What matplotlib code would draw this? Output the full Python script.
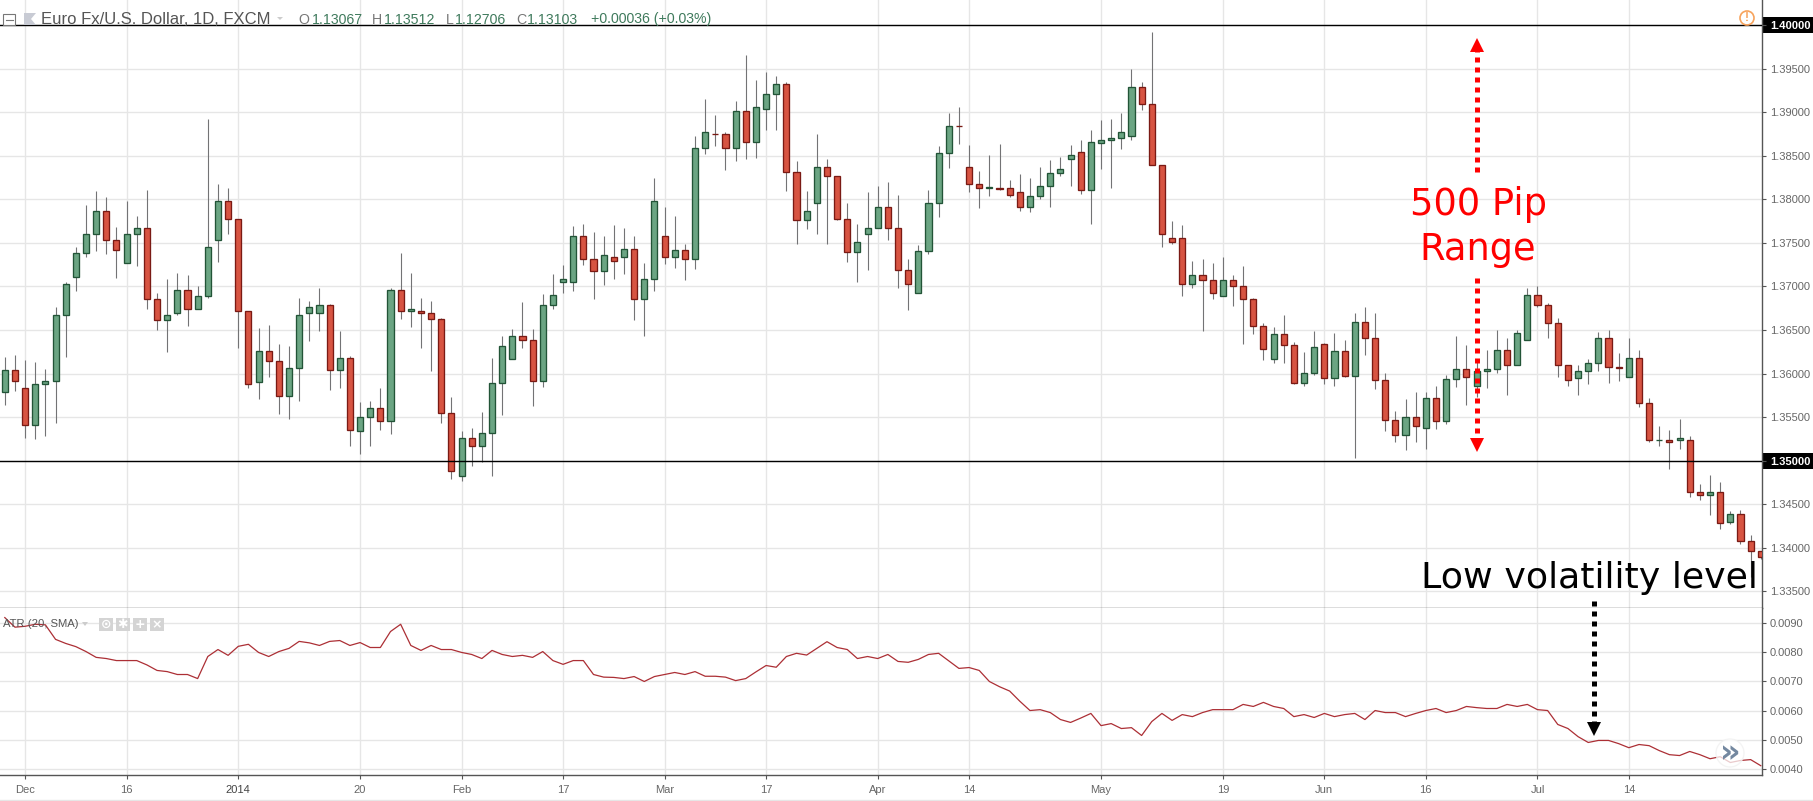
import numpy as np
import matplotlib
matplotlib.use('Agg')
import matplotlib.pyplot as plt
from matplotlib.patches import Rectangle, Circle, Polygon

plt.rcParams['font.family'] = ['Liberation Sans', 'DejaVu Sans']

# daily candles
opens = [
    1.35783,1.36047,1.35840,1.35415,1.35886,1.35920,1.36667,1.37114,1.37390,1.37608,
    1.37861,1.37528,1.37275,1.37608,1.37677,1.36862,1.36621,1.36701,1.36954,1.36747,
    1.36896,1.37539,1.37976,1.37780,1.36713,1.35909,1.36265,1.36150,1.35748,1.36070,
    1.36701,1.36701,1.36782,1.36047,1.36184,1.35346,1.35503,1.35610,1.35461,1.36954,
    1.36724,1.36724,1.36701,1.36632,1.35542,1.34830,1.35266,1.35174,1.35323,1.35897,
    1.36162,1.36437,1.36380,1.35920,1.36782,1.37046,1.37046,1.37574,1.37321,1.37183,
    1.37344,1.37344,1.37436,1.36862,1.37091,1.37585,1.37344,1.37424,1.37321,1.38595,
    1.38756,1.38756,1.38595,1.39020,1.38664,1.39043,1.39215,1.39330,1.38320,1.37769,
    1.37964,1.38377,1.38263,1.37780,1.37401,1.37597,1.37677,1.37918,1.37666,1.37195,
    1.36931,1.37413,1.37964,1.38538,1.38848,1.38377,1.38182,1.38132,1.38136,1.38125,
    1.38090,1.37918,1.38044,1.38159,1.38308,1.38469,1.38546,1.38113,1.38653,1.38687,
    1.38710,1.38726,1.39292,1.39093,1.38393,1.37562,1.37562,1.37023,1.37137,1.37080,
    1.36896,1.37080,1.37011,1.36862,1.36552,1.36162,1.36449,1.36334,1.35897,1.36012,
    1.36345,1.35955,1.36265,1.35978,1.36598,1.36403,1.35932,1.35473,1.35300,1.35507,
    1.35381,1.35725,1.35461,1.35943,1.36058,1.35852,1.36035,1.36058,1.36276,1.36093,
    1.36380,1.36908,1.36782,1.36586,1.36093,1.35955,1.36035,1.36116,1.36414,1.36081,
    1.35966,1.36184,1.35668,1.35232,1.35243,1.35232,1.35232,1.34646,1.34612,1.34635,
    1.34302,1.34393,1.34083,1.33969]
highs = [
    1.36188,1.36211,1.36154,1.36131,1.36051,1.36770,1.37057,1.37459,1.37941,1.38102,
    1.38033,1.37688,1.37987,1.37815,1.38113,1.36931,1.37091,1.37160,1.37137,1.37011,
    1.38928,1.38182,1.38125,1.37780,1.36713,1.36529,1.36563,1.36345,1.36322,1.36873,
    1.36839,1.36988,1.36804,1.36494,1.36207,1.35679,1.35691,1.35829,1.36977,1.37390,
    1.37160,1.36873,1.36839,1.36644,1.35729,1.35346,1.35381,1.35557,1.36184,1.36437,
    1.36517,1.36827,1.36517,1.36919,1.37149,1.37241,1.37700,1.37723,1.37620,1.37585,
    1.37711,1.37666,1.37574,1.37264,1.38240,1.37918,1.37815,1.37493,1.38733,1.39147,
    1.38974,1.38779,1.39135,1.39663,1.39376,1.39468,1.39422,1.39342,1.38446,1.38102,
    1.38756,1.38469,1.38274,1.37964,1.37723,1.38090,1.38148,1.38205,1.38056,1.37310,
    1.37482,1.38113,1.38618,1.38986,1.39055,1.38630,1.38331,1.38515,1.38641,1.38217,
    1.38297,1.38240,1.38374,1.38450,1.38488,1.38626,1.38680,1.38794,1.38909,1.38928,
    1.38986,1.39502,1.39349,1.39927,1.38393,1.37750,1.37711,1.37298,1.37321,1.37264,
    1.37333,1.37137,1.37230,1.36873,1.36586,1.36540,1.36678,1.36368,1.36253,1.36494,
    1.36357,1.36471,1.36391,1.36690,1.36770,1.36690,1.36012,1.35565,1.35714,1.35783,
    1.35794,1.35863,1.35989,1.36426,1.36334,1.36135,1.36276,1.36506,1.36414,1.36506,
    1.36977,1.37000,1.36816,1.36644,1.36104,1.36093,1.36173,1.36483,1.36506,1.36242,
    1.36403,1.36276,1.35725,1.35404,1.35358,1.35484,1.35289,1.34738,1.34841,1.34750,
    1.34428,1.34439,1.34152,1.33969]
lows = [
    1.35637,1.35802,1.35262,1.35251,1.35285,1.35434,1.36192,1.36950,1.37340,1.37409,
    1.37375,1.37099,1.37275,1.37237,1.36743,1.36502,1.36250,1.36678,1.36548,1.36747,
    1.36873,1.37283,1.37604,1.36295,1.35829,1.35714,1.35963,1.35538,1.35480,1.35687,
    1.36376,1.36491,1.35813,1.35836,1.35170,1.35078,1.35170,1.35354,1.35308,1.36628,
    1.36537,1.36295,1.36031,1.35434,1.34791,1.34769,1.34941,1.34990,1.34826,1.35526,
    1.36162,1.36295,1.35630,1.35848,1.36743,1.36927,1.36950,1.37248,1.36858,1.37019,
    1.37088,1.37149,1.36617,1.36433,1.36950,1.37260,1.37214,1.37080,1.37202,1.38523,
    1.38615,1.38339,1.38442,1.38465,1.38477,1.38798,1.38798,1.38098,1.37490,1.37662,
    1.37604,1.37490,1.37765,1.37283,1.37053,1.37191,1.37677,1.37535,1.36984,1.36732,
    1.36931,1.37375,1.37800,1.38362,1.38638,1.38086,1.37903,1.38041,1.38113,1.38033,
    1.37868,1.37857,1.38006,1.37914,1.38270,1.38152,1.38064,1.37723,1.38354,1.38125,
    1.38584,1.38680,1.39024,1.38393,1.37455,1.37493,1.36892,1.36984,1.36491,1.36858,
    1.36896,1.36778,1.36341,1.36456,1.36158,1.36123,1.36123,1.35886,1.35859,1.35989,
    1.35882,1.35859,1.35963,1.35036,1.36215,1.35825,1.35343,1.35216,1.35128,1.35216,
    1.35136,1.35366,1.35423,1.35848,1.35641,1.35733,1.35836,1.36008,1.35756,1.36093,
    1.36380,1.36759,1.36414,1.35966,1.35863,1.35760,1.35886,1.36035,1.35897,1.35920,
    1.35966,1.35622,1.35220,1.35170,1.34910,1.35140,1.34589,1.34554,1.34382,1.34221,
    1.34279,1.34049,1.33666,1.33877]
closes = [
    1.36047,1.35920,1.35415,1.35886,1.35920,1.36667,1.37023,1.37390,1.37608,1.37861,
    1.37528,1.37424,1.37608,1.37677,1.36862,1.36621,1.36667,1.36954,1.36747,1.36896,
    1.37459,1.37976,1.37780,1.36713,1.35886,1.36265,1.36150,1.35748,1.36070,1.36667,
    1.36759,1.36782,1.36047,1.36184,1.35358,1.35507,1.35610,1.35461,1.36954,1.36713,
    1.36736,1.36701,1.36632,1.35542,1.34887,1.35266,1.35174,1.35323,1.35897,1.36322,
    1.36437,1.36380,1.35920,1.36782,1.36908,1.37091,1.37574,1.37321,1.37183,1.37356,
    1.37287,1.37436,1.36862,1.37091,1.37987,1.37344,1.37424,1.37321,1.38595,1.38779,
    1.38745,1.38595,1.39020,1.38664,1.39055,1.39215,1.39330,1.38320,1.37769,1.37861,
    1.38377,1.38263,1.37780,1.37401,1.37516,1.37677,1.37918,1.37666,1.37195,1.37023,
    1.37413,1.37964,1.38538,1.38848,1.38837,1.38182,1.38136,1.38140,1.38121,1.38056,
    1.37918,1.38044,1.38159,1.38308,1.38354,1.38507,1.38113,1.38664,1.38687,1.38710,
    1.38779,1.39292,1.39093,1.38393,1.37608,1.37516,1.37023,1.37137,1.37080,1.36931,
    1.37080,1.37011,1.36862,1.36552,1.36288,1.36449,1.36334,1.35897,1.36012,1.36311,
    1.35955,1.36265,1.35978,1.36598,1.36403,1.35932,1.35473,1.35300,1.35507,1.35404,
    1.35725,1.35461,1.35943,1.36058,1.35966,1.36035,1.36058,1.36276,1.36093,1.36471,
    1.36908,1.36782,1.36586,1.36093,1.35932,1.36035,1.36116,1.36414,1.36081,1.36070,
    1.36184,1.35668,1.35232,1.35243,1.35220,1.35255,1.34646,1.34612,1.34635,1.34290,
    1.34393,1.34083,1.33969,1.33900]

# ATR (20, SMA) for the same candles
atr = [
    .00920,.00887,.00890,.00897,.00895,.00845,.00831,.00820,.00803,.00783,
    .00779,.00772,.00772,.00772,.00757,.00738,.00734,.00724,.00724,.00710,
    .00786,.00810,.00790,.00821,.00828,.00800,.00786,.00803,.00814,.00838,
    .00833,.00824,.00838,.00841,.00824,.00834,.00817,.00817,.00872,.00897,
    .00824,.00807,.00824,.00810,.00810,.00800,.00793,.00779,.00807,.00793,
    .00786,.00790,.00783,.00803,.00772,.00759,.00772,.00772,.00724,.00715,
    .00714,.00710,.00717,.00700,.00717,.00724,.00731,.00724,.00734,.00718,
    .00718,.00715,.00703,.00710,.00733,.00755,.00749,.00786,.00797,.00791,
    .00814,.00837,.00817,.00810,.00779,.00786,.00779,.00793,.00769,.00766,
    .00776,.00793,.00797,.00771,.00745,.00748,.00738,.00700,.00682,.00667,
    .00632,.00600,.00603,.00593,.00569,.00559,.00574,.00590,.00548,.00555,
    .00538,.00541,.00514,.00562,.00590,.00566,.00586,.00579,.00593,.00603,
    .00603,.00603,.00621,.00614,.00628,.00614,.00607,.00579,.00586,.00576,
    .00590,.00579,.00586,.00590,.00569,.00600,.00593,.00593,.00579,.00590,
    .00600,.00607,.00593,.00600,.00614,.00610,.00607,.00607,.00621,.00614,
    .00621,.00603,.00600,.00552,.00538,.00510,.00490,.00497,.00497,.00486,
    .00472,.00483,.00479,.00462,.00448,.00445,.00459,.00448,.00434,.00441,
    .00421,.00428,.00431,.00410]

tick_idx = [2, 12, 23, 35, 45, 55, 65, 75, 86, 95, 108, 120, 130, 140, 151, 160]
tick_labels = ['Dec', '16', '2014', '20', 'Feb', '17', 'Mar', '17', 'Apr', '14',
               'May', '19', 'Jun', '16', 'Jul', '14']
price_ticks = [1.335, 1.34, 1.345, 1.35, 1.355, 1.36, 1.365, 1.37, 1.375, 1.38,
               1.385, 1.39, 1.395, 1.40]
atr_ticks = [0.004, 0.005, 0.006, 0.007, 0.008, 0.009]
level_lines = [1.35, 1.40]

W, H = 1813, 801
GRID = '#e6e6e6'
AXIS = '#555555'
LABEL = '#666666'

fig = plt.figure(figsize=(W / 100, H / 100), dpi=100, facecolor='white')
right = 1761.5 / W
ax = fig.add_axes([0, (H - 608) / H, right, 608 / H])
ax2 = fig.add_axes([0, (H - 775) / H, right, (775 - 608) / H])

idx = np.arange(len(opens))
o, h, l, c = map(np.array, (opens, highs, lows, closes))
up = c >= o

# candles
ax.vlines(idx, l, h, color='#737375', lw=0.8, zorder=2)
ax.bar(idx[up], (c - o)[up], bottom=o[up], width=0.6, color='#6ba583',
       edgecolor='#225437', lw=0.95, zorder=3)
ax.bar(idx[~up], (o - c)[~up], bottom=c[~up], width=0.6, color='#d75442',
       edgecolor='#7a1a14', lw=0.95, zorder=3)
for lev in level_lines:
    ax.axhline(lev, color='black', lw=1.0, zorder=4)

ax.set_xlim(-0.473, 173.07)
ax.set_ylim(1.33309, 1.40289)
ax.set_xticks(tick_idx)
ax.set_yticks(price_ticks)
ax.set_yticklabels(['%.5f' % p for p in price_ticks])
ax.yaxis.tick_right()
ax.tick_params(axis='x', length=0, labelbottom=False)
ax.tick_params(axis='y', length=3, width=0.8, color=AXIS, labelcolor=LABEL, labelsize=8, pad=3)
ax.grid(True, color=GRID, lw=1.0)
ax.set_axisbelow(True)

# black price flags for the two level lines
ytrans = ax.get_yaxis_transform()
for lab, p in zip(ax.get_yticklabels(), price_ticks):
    if p in level_lines:
        lab.set_color('white')
        lab.set_fontweight('bold')
        ax.add_patch(Rectangle((1.0, p - 0.00092), 52 / 1761.5, 0.00184, transform=ytrans,
                               fc='black', ec='none', clip_on=False, zorder=0.1))

# ATR pane
ax2.plot(idx, atr, color='#ac2f35', lw=0.9, zorder=3)
ax2.set_xlim(-0.473, 173.07)
ax2.set_ylim(0.00378, 0.00953)
ax2.set_xticks(tick_idx)
ax2.set_xticklabels(tick_labels)
ax2.set_yticks(atr_ticks)
ax2.set_yticklabels(['%.4f' % v for v in atr_ticks])
ax2.yaxis.tick_right()
ax2.tick_params(axis='both', length=3, width=0.8, color=AXIS, labelcolor=LABEL, labelsize=8)
ax2.tick_params(axis='x', pad=4.5)
ax2.tick_params(axis='y', pad=3)
ax2.get_xticklabels()[2].set_color('#444444')
ax2.grid(True, color=GRID, lw=1.0)
ax2.set_axisbelow(True)

for a in (ax, ax2):
    a.spines['top'].set_visible(False)
    a.spines['left'].set_visible(False)
    for s in ('right', 'bottom'):
        a.spines[s].set_color(AXIS)
        a.spines[s].set_linewidth(1.0)

# overlay in pixel coordinates for header, buttons and the drawn annotations
ov = fig.add_axes([0, 0, 1, 1], zorder=10)
ov.set_xlim(0, W)
ov.set_ylim(H, 0)
ov.axis('off')
ov.patch.set_alpha(0)

# header
ov.add_patch(Rectangle((3, 13.5), 12, 11.5, fc='white', ec='#777777', lw=0.8))
ov.plot([5.5, 12.5], [19.5, 19.5], color='#777777', lw=0.8)
ov.add_patch(Polygon([(24, 13), (36, 13), (31, 19), (36, 25), (24, 25)], fc='#c8cbd4', ec='none'))
ov.text(41, 19.5, 'Euro Fx/U.S. Dollar, 1D, FXCM', color='#555555', fontsize=12.0, va='center')
ov.add_patch(Polygon([(277, 17), (283, 17), (280, 20)], fc='#cccccc', ec='none'))
head_letters = [('O', 298), ('H', 372), ('L', 446), ('C', 516)]
head_values = [('1.13067', 312), ('1.13512', 384), ('1.12706', 455), ('1.13103', 527),
               ('+0.00036 (+0.03%)', 591)]
for s, x in head_letters:
    ov.text(x, 19.5, s, color='#777777', fontsize=10.2, va='center')
for s, x in head_values:
    ov.text(x, 19.5, s, color='#3f7a5c', fontsize=10.2, va='center')

# alert icon
ov.add_patch(Circle((1747, 18), 7, fc='none', ec='#f7a35c', lw=1.2))
ov.text(1747, 18, '!', color='#f7a35c', fontsize=8.5, ha='center', va='center', fontweight='bold')

# ATR legend and its buttons
ov.text(3, 624, 'ATR (20, SMA)', color='#555555', fontsize=8.1, va='center')
ov.add_patch(Polygon([(82, 622), (88, 622), (85, 626)], fc='#cccccc', ec='none'))
for x, g in zip((99, 116, 133, 150), ('⊙', '✱', '+', '×')):
    ov.add_patch(Rectangle((x, 618), 13.5, 13, fc='#d4d4d4', ec='none'))
    ov.text(x + 6.7, 624.5, g, color='white', fontsize=9, ha='center', va='center',
            family='DejaVu Sans', fontweight='bold')

# scroll button
ov.add_patch(Circle((1730, 753), 14, fc='white', ec='#f0f0f0', lw=1.0, alpha=0.75))
ov.text(1730, 754, '»', color='#7488a0', fontsize=23, ha='center', va='center',
        family='DejaVu Sans', fontweight='bold')

# bottom strip line
ov.plot([0, W], [800, 800], color='#e6e6e6', lw=1.0)

# 500 pip annotation
RED = '#ff0000'
ov.text(1478, 215, '500 Pip', color=RED, fontsize=26.5, ha='center', va='baseline', family='DejaVu Sans')
ov.text(1478, 260, 'Range', color=RED, fontsize=26.5, ha='center', va='baseline', family='DejaVu Sans')
ov.plot([1477, 1477], [172, 50], color=RED, lw=3.6, ls=(0, (1, 1)))
ov.add_patch(Polygon([(1477, 38), (1470, 52), (1484, 52)], fc=RED, ec='none'))
ov.plot([1477, 1477], [278, 438], color=RED, lw=3.6, ls=(0, (1, 1)))
ov.add_patch(Polygon([(1477, 452), (1470, 438), (1484, 438)], fc=RED, ec='none'))

# low volatility annotation
ov.text(1421, 588, 'Low volatility level', color='black', fontsize=26.2, ha='left', va='baseline',
        family='DejaVu Sans')
ov.plot([1594, 1594], [601, 722], color='black', lw=3.6, ls=(0, (1, 1)))
ov.add_patch(Polygon([(1594, 736), (1587, 722), (1601, 722)], fc='black', ec='none'))

plt.savefig('out.png', dpi=100)
